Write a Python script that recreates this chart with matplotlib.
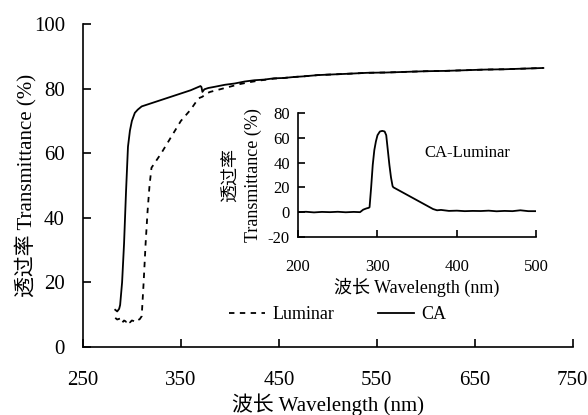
import matplotlib
matplotlib.use("Agg")
import matplotlib.pyplot as plt

plt.rcParams['font.family'] = ['Liberation Serif', 'Noto Sans CJK SC']
plt.rcParams['axes.unicode_minus'] = False

# main chart: CA film
ca_x = [283, 285, 287, 288, 290, 292, 294, 296, 298, 300, 303, 306, 310, 320, 340,
        360, 370, 371, 372, 374, 378, 385, 395, 405, 415, 425, 435, 445, 455, 465,
        475, 490, 505, 520, 540, 560, 580, 600, 620, 640, 660, 680, 700, 720]
ca_y = [11.5, 11.0, 11.8, 13.0, 20, 32, 48, 62, 67, 70, 72.5, 73.5, 74.5, 75.5, 77.5,
        79.5, 80.8, 80.5, 79.0, 79.8, 80.2, 80.6, 81.2, 81.6, 82.2, 82.6, 82.8, 83.2, 83.3, 83.6,
        83.8, 84.2, 84.4, 84.6, 84.9, 85.0, 85.2, 85.4, 85.5, 85.7, 85.9, 86.0, 86.2, 86.4]

# main chart: Luminar
lum_x = [283, 285, 288, 290, 292, 294, 296, 298, 300, 302, 304, 306, 308, 310, 312,
         314, 316, 318, 320, 330, 340, 350, 360, 368, 372, 376, 380, 390, 400, 410,
         420, 430, 445, 455, 465, 475, 490, 505, 520, 540, 560, 580, 600, 620, 640,
         660, 680, 700, 720]
lum_y = [9.0, 8.5, 8.8, 7.5, 8.2, 7.8, 8.5, 7.6, 8.2, 8.0, 7.7, 8.3, 8.6, 9.5, 20,
         32, 42, 50, 55.5, 60, 65, 70, 73.5, 77, 77.5, 78.5, 79, 79.8, 80.6, 81.4,
         82.0, 82.5, 83.1, 83.3, 83.6, 83.8, 84.2, 84.4, 84.6, 84.9, 85.0, 85.2, 85.4, 85.5, 85.7,
         85.9, 86.0, 86.2, 86.4]

# inset: CA - Luminar
diff_x = [200, 210, 220, 230, 240, 250, 260, 270, 278, 282, 286, 289, 290, 292, 294,
          296, 298, 300, 303, 306, 309, 311, 313, 315, 317, 319, 320, 330, 340, 350,
          360, 370, 375, 380, 390, 400, 410, 420, 430, 440, 450, 460, 470, 480, 490, 500]
diff_y = [0, 0.3, -0.2, 0.2, 0, 0.3, -0.1, 0.2, 0, 2, 3, 3.5, 4, 20, 38,
          50, 57, 62, 65, 65.5, 65, 62, 50, 38, 28, 21, 20, 16.5, 13, 9.5,
          6, 2.5, 1.5, 1.8, 1.0, 1.2, 0.8, 1.0, 0.9, 1.2, 0.7, 1.0, 0.8, 1.5, 0.8, 0.8]

fig = plt.figure(figsize=(5.88, 4.15), dpi=100)
ax = fig.add_axes([0.141, 0.164, 0.833, 0.778])
ax.plot(lum_x, lum_y, color='black', lw=1.3, ls=(0, (3, 3)), label='Luminar')
ax.plot(ca_x, ca_y, color='black', lw=1.3, label='CA')
ax.set_xlim(250, 750)
ax.set_ylim(0, 100)
ax.set_xticks([250, 350, 450, 550, 650, 750])
ax.set_yticks([0, 20, 40, 60, 80, 100])
ax.spines['top'].set_visible(False)
ax.spines['right'].set_visible(False)
ax.tick_params(direction='in', length=6, labelsize=15, width=1.2)
ax.tick_params(axis='x', pad=17)
ax.tick_params(axis='y', pad=13)
for s in ax.spines.values():
    s.set_linewidth(1.2)
ax.set_xlabel('波长 Wavelength (nm)', fontsize=15, labelpad=3)
ax.set_ylabel('透过率 Transmittance (%)', fontsize=15, labelpad=-2)
ax.legend(loc='center', bbox_to_anchor=(0.52, 0.099), ncol=2, frameon=False,
          fontsize=13, handlelength=2.0, columnspacing=2.4, handletextpad=0.4)

ins = fig.add_axes([0.507, 0.429, 0.405, 0.299])
ins.plot(diff_x, diff_y, color='black', lw=1.3)
ins.set_xlim(200, 500)
ins.set_ylim(-20, 80)
ins.set_xticks([200, 300, 400, 500])
ins.set_yticks([-20, 0, 20, 40, 60, 80])
ins.spines['top'].set_visible(False)
ins.spines['right'].set_visible(False)
ins.tick_params(direction='in', length=5, labelsize=12, width=1.2)
ins.tick_params(axis='x', pad=16)
ins.tick_params(axis='y', pad=6)
for s in ins.spines.values():
    s.set_linewidth(1.2)
ins.set_xlabel('波长 Wavelength (nm)', fontsize=13, labelpad=2)
ins.set_ylabel('透过率\nTransmittance (%)', fontsize=13, labelpad=4, linespacing=1.4)
ins.text(359, 48, 'CA-Luminar', fontsize=12, ha='left', va='center')

fig.savefig('out.png', dpi=100)
